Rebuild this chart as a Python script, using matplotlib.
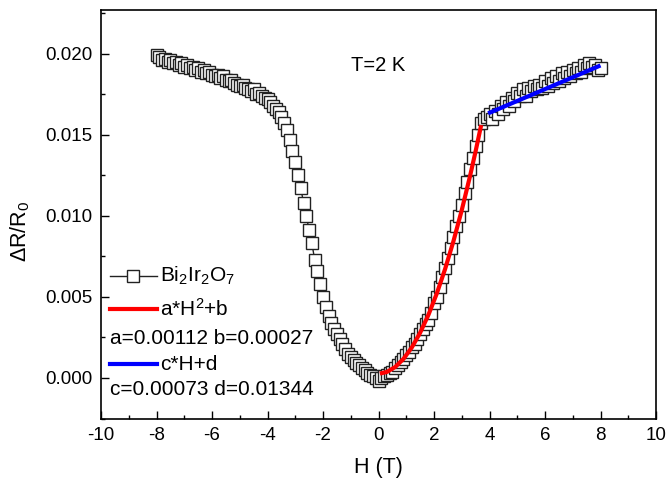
import matplotlib
matplotlib.use("Agg")
import matplotlib.pyplot as plt
from matplotlib.ticker import MultipleLocator, FormatStrFormatter

plt.rcParams['font.family'] = ['Liberation Sans', 'DejaVu Sans']
plt.rcParams['mathtext.fontset'] = 'custom'
plt.rcParams['mathtext.rm'] = 'Liberation Sans'
plt.rcParams['mathtext.it'] = 'Liberation Sans:italic'
plt.rcParams['mathtext.bf'] = 'Liberation Sans:bold'
plt.rcParams['axes.unicode_minus'] = False

# ---- data ----
H = [-8.0, -7.9, -7.8, -7.7, -7.6, -7.5, -7.4, -7.3, -7.2, -7.1,
     -7.0, -6.9, -6.8, -6.7, -6.6, -6.5, -6.4, -6.3, -6.2, -6.1,
     -6.0, -5.9, -5.8, -5.7, -5.6, -5.5, -5.4, -5.3, -5.2, -5.1,
     -5.0, -4.9, -4.8, -4.7, -4.6, -4.5, -4.4, -4.3, -4.2, -4.1,
     -4.0, -3.9, -3.8, -3.7, -3.6, -3.5, -3.4, -3.3, -3.2, -3.1,
     -3.0, -2.9, -2.8, -2.7, -2.6, -2.5, -2.4, -2.3, -2.2, -2.1,
     -2.0, -1.9, -1.8, -1.7, -1.6, -1.5, -1.4, -1.3, -1.2, -1.1,
     -1.0, -0.9, -0.8, -0.7, -0.6, -0.5, -0.4, -0.3, -0.2, -0.1,
     0.0, 0.1, 0.2, 0.3, 0.4, 0.5, 0.6, 0.7, 0.8, 0.9,
     1.0, 1.1, 1.2, 1.3, 1.4, 1.5, 1.6, 1.7, 1.8, 1.9,
     2.0, 2.1, 2.2, 2.3, 2.4, 2.5, 2.6, 2.7, 2.8, 2.9,
     3.0, 3.1, 3.2, 3.3, 3.4, 3.5, 3.6, 3.7, 3.8, 3.9,
     4.0, 4.1, 4.2, 4.3, 4.4, 4.5, 4.6, 4.7, 4.8, 4.9,
     5.0, 5.1, 5.2, 5.3, 5.4, 5.5, 5.6, 5.7, 5.8, 5.9,
     6.0, 6.1, 6.2, 6.3, 6.4, 6.5, 6.6, 6.7, 6.8, 6.9,
     7.0, 7.1, 7.2, 7.3, 7.4, 7.5, 7.6, 7.7, 7.8, 7.9, 8.0]

dR = [0.0199, 0.0198, 0.0196, 0.0197, 0.0195, 0.0196, 0.0194, 0.0195, 0.0193, 0.0194,
      0.0192, 0.0193, 0.0191, 0.0192, 0.0190, 0.0191, 0.0189, 0.0190, 0.0188, 0.0189,
      0.0187, 0.0186, 0.0187, 0.0185, 0.0186, 0.0184, 0.0183, 0.0184, 0.0182, 0.0181,
      0.0180, 0.0181, 0.0179, 0.0178, 0.0177, 0.0178, 0.0175, 0.0176, 0.0174, 0.0173,
      0.0172, 0.0170, 0.0168, 0.0166, 0.0164, 0.0161, 0.0157, 0.0153, 0.0147, 0.0140,
      0.0133, 0.0125, 0.0117, 0.0108, 0.0100, 0.0091, 0.0083, 0.0073, 0.0066, 0.0058,
      0.0050, 0.0044, 0.0038, 0.0034, 0.0030, 0.0027, 0.0024, 0.0021, 0.0018, 0.0015,
      0.0013, 0.0011, 0.0009, 0.0008, 0.0006, 0.0005, 0.0003, 0.0002, 0.0001, 0.0000,
      -0.0002, 0.0000, 0.0001, 0.0002, 0.0003, 0.0004, 0.0006, 0.0008, 0.0010, 0.0012,
      0.0014, 0.0016, 0.0019, 0.0021, 0.0024, 0.0027, 0.0030, 0.0033, 0.0036, 0.0040,
      0.0046, 0.0050, 0.0056, 0.0062, 0.0068, 0.0074, 0.0080, 0.0087, 0.0094, 0.0100,
      0.0107, 0.0114, 0.0121, 0.0129, 0.0136, 0.0143, 0.0150, 0.0157, 0.0160, 0.0161,
      0.0163, 0.0160, 0.0165, 0.0163, 0.0168, 0.0166, 0.0170, 0.0168, 0.0173, 0.0171,
      0.0176, 0.0174, 0.0178, 0.0174, 0.0179, 0.0177, 0.0180, 0.0178, 0.0181, 0.0179,
      0.0183, 0.0180, 0.0185, 0.0182, 0.0186, 0.0183, 0.0188, 0.0185, 0.0189, 0.0186,
      0.0190, 0.0188, 0.0191, 0.0189, 0.0193, 0.0191, 0.0194, 0.0192, 0.0193, 0.0190, 0.0191]

# fit parameters printed on the chart
a_fit, b_fit = 0.00112, 0.00027
c_fit, d_fit = 0.00073, 0.01344
H_quad = [0.05, 0.3, 0.6, 0.9, 1.2, 1.5, 1.8, 2.1, 2.4, 2.7, 3.0, 3.3, 3.5, 3.7]
H_lin = [3.95, 8.0]

series_label = r'Bi$_2$Ir$_2$O$_7$'
quad_label = r'a*H$^2$+b'
lin_label = 'c*H+d'
quad_text = 'a=0.00112 b=0.00027'
lin_text = 'c=0.00073 d=0.01344'
title_text = 'T=2 K'
x_label = 'H (T)'
y_label = r'ΔR/R$_0$'

# ---- figure ----
fig = plt.figure(figsize=(6.67, 4.88), dpi=100)
ax = fig.add_axes([101/667, 1-419/488, 555/667, 409/488])

ax.plot(H, dR, color='#222222', lw=1.0, marker='s', ms=8.0,
        mfc='white', mec='#222222', mew=1.0, zorder=2)

yq = [a_fit*h*h + b_fit for h in H_quad]
yl = [c_fit*h + d_fit for h in H_lin]
ax.plot(H_quad, yq, color='#ff0000', lw=3.0, solid_capstyle='butt', zorder=3)
ax.plot(H_lin, yl, color='#0000ff', lw=3.0, solid_capstyle='butt', zorder=3)

ax.set_xlim(-10, 10)
ax.set_ylim(-0.00253, 0.0227)
ax.xaxis.set_major_locator(MultipleLocator(2))
ax.xaxis.set_minor_locator(MultipleLocator(1))
ax.yaxis.set_major_locator(MultipleLocator(0.005))
ax.yaxis.set_minor_locator(MultipleLocator(0.0025))
ax.yaxis.set_major_formatter(FormatStrFormatter('%.3f'))
ax.tick_params(which='both', direction='in', top=False, right=False, width=1.0)
ax.tick_params(which='major', length=5.5, labelsize=13.5, pad=6)
ax.tick_params(which='minor', length=3)
for s in ax.spines.values():
    s.set_linewidth(1.2)

ax.set_xlabel(x_label, fontsize=15.5, labelpad=9)
ax.set_ylabel(y_label, fontsize=15.5, labelpad=8)
ax.yaxis.set_label_coords(-0.125, 0.46)

ax.text(0, 0.0193, title_text, ha='center', va='center', fontsize=14.5)

# legend-like block (axes fractions)
tr = ax.transAxes
ax.plot([0.016, 0.101], [0.350, 0.350], color='#222222', lw=1.0, transform=tr)
ax.plot([0.058], [0.350], marker='s', ms=8.0, mfc='white', mec='#222222', mew=1.0,
        transform=tr, color='#222222')
ax.text(0.106, 0.350, series_label, transform=tr, va='center', ha='left', fontsize=15)
ax.plot([0.016, 0.101], [0.269, 0.269], color='#ff0000', lw=3.0, transform=tr)
ax.text(0.106, 0.269, quad_label, transform=tr, va='center', ha='left', fontsize=15)
ax.text(0.016, 0.196, quad_text, transform=tr, va='center', ha='left', fontsize=15)
ax.plot([0.016, 0.101], [0.134, 0.134], color='#0000ff', lw=3.0, transform=tr)
ax.text(0.106, 0.134, lin_label, transform=tr, va='center', ha='left', fontsize=15)
ax.text(0.016, 0.071, lin_text, transform=tr, va='center', ha='left', fontsize=15)

fig.savefig('out.png', dpi=100)
